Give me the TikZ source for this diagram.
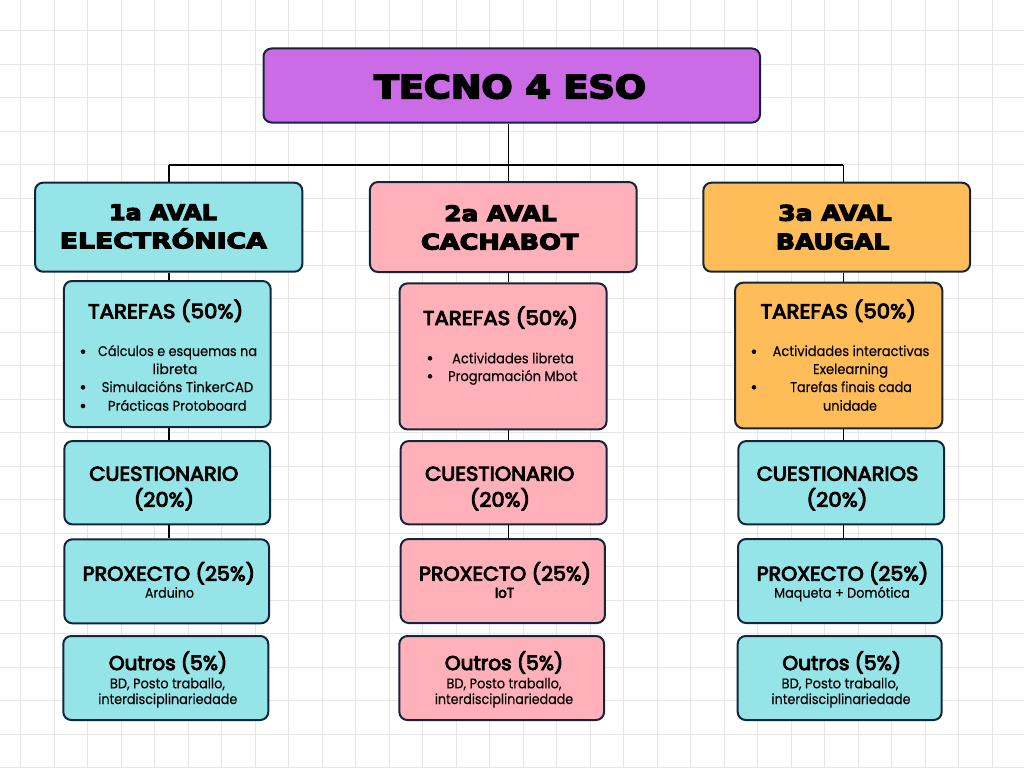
\documentclass[tikz,border=0pt]{standalone}
\usepackage{fontspec}
\usepackage{graphicx}
\setmainfont{Poppins}[BoldFont={Poppins}, BoldFeatures={FakeBold=0.2}]
\newfontfamily\hdrfont{DejaVu Sans}[BoldFont={DejaVu Sans Bold}, BoldFeatures={FakeBold=5}]
\newfontfamily\medfont{Poppins}[BoldFont={Poppins}, BoldFeatures={FakeBold=4.5}]
\newcommand\fw[2]{\resizebox{#1pt}{\height}{#2}}
\definecolor{gridc}{HTML}{E6E6E6}
\definecolor{bord}{HTML}{13253A}
\definecolor{purp}{HTML}{CB6CE6}
\definecolor{cyanb}{HTML}{94E4E8}
\definecolor{pinkb}{HTML}{FFB0B8}
\definecolor{orab}{HTML}{FFBD59}
\tikzset{
  bx/.style={draw=bord, line width=2pt, rounded corners=8pt, inner sep=0pt},
  conn/.style={draw=black, line width=1.5pt},
  tx/.style={anchor=base, inner sep=0pt, text=black},
  ttl/.style={tx, font=\hdrfont\bfseries\fontsize{32}{36}\selectfont},
  hdr/.style={tx, font=\hdrfont\bfseries\fontsize{21.5}{24}\selectfont},
  med/.style={tx, font=\medfont\bfseries\fontsize{20}{24}\selectfont},
  sml/.style={tx, font=\bfseries\fontsize{14}{16}\selectfont},
  bul/.style={circle, fill=black, inner sep=0pt, minimum size=4.6pt},
}
\begin{document}
\begin{tikzpicture}[x=1pt,y=-1pt]
\useasboundingbox (0,0) rectangle (1024,768);
\fill[white] (0,0) rectangle (1024,768);
% grid
\foreach \i in {0,...,30} {
  \draw[gridc, line width=1.3pt] ({20.7+33.5*\i},0) -- ({20.7+33.5*\i},768);
}
\foreach \j in {0,...,22} {
  \draw[gridc, line width=1.3pt] (0,{30.8+33.5*\j}) -- (1024,{30.8+33.5*\j});
}
% connector coordinates
\coordinate (hub) at (508.5,165);
\coordinate (l1) at (169,165);
\coordinate (l3) at (843.3,165);
\coordinate (c1) at (169,0);
\coordinate (c2) at (508.5,0);
\coordinate (c3) at (843.3,0);

% boxes
\node[bx, fill=purp, minimum width=496.5pt, minimum height=74pt] (title) at (511.75,85.5) {};

\node[bx, fill=cyanb, minimum width=267.3pt, minimum height=89pt] (h1) at (168.7,227.2) {};
\node[bx, fill=pinkb, minimum width=266.7pt, minimum height=90pt] (h2) at (503.3,227) {};
\node[bx, fill=orab, minimum width=266.7pt, minimum height=89pt] (h3) at (836.7,227.2) {};

\node[bx, fill=cyanb, minimum width=206.7pt, minimum height=146pt] (t1) at (167.3,354) {};
\node[bx, fill=pinkb, minimum width=207pt, minimum height=146pt] (t2) at (503,356.4) {};
\node[bx, fill=orab, minimum width=207.3pt, minimum height=145.6pt] (t3) at (838.7,355.5) {};

\node[bx, fill=cyanb, minimum width=205.7pt, minimum height=83.3pt] (q1) at (167.2,482.7) {};
\node[bx, fill=pinkb, minimum width=206pt, minimum height=83.3pt] (q2) at (503.7,482.7) {};
\node[bx, fill=cyanb, minimum width=205.7pt, minimum height=83.3pt] (q3) at (841.2,482.7) {};

\node[bx, fill=cyanb, minimum width=204.7pt, minimum height=84pt] (p1) at (166.7,581.3) {};
\node[bx, fill=pinkb, minimum width=204.3pt, minimum height=84pt] (p2) at (502.8,581) {};
\node[bx, fill=cyanb, minimum width=204pt, minimum height=84pt] (p3) at (840,581) {};

\node[bx, fill=cyanb, minimum width=205pt, minimum height=84pt] (o1) at (165.8,678) {};
\node[bx, fill=pinkb, minimum width=204.7pt, minimum height=84pt] (o2) at (501.7,678) {};
\node[bx, fill=cyanb, minimum width=204pt, minimum height=84pt] (o3) at (839.7,678) {};

% connectors
\draw[conn] (title.south -| hub) -- (hub);
\draw[conn] (l1) -- (l3);
\draw[conn] (l1) -- (l1 |- h1.north);
\draw[conn] (hub) -- (hub |- h2.north);
\draw[conn] (l3) -- (l3 |- h3.north);
\draw[conn] (c1 |- h1.south) -- (c1 |- t1.north);
\draw[conn] (c1 |- t1.south) -- (c1 |- q1.north);
\draw[conn] (c1 |- q1.south) -- (c1 |- p1.north);
\draw[conn] (c2 |- h2.south) -- (c2 |- t2.north);
\draw[conn] (c2 |- t2.south) -- (c2 |- q2.north);
\draw[conn] (c2 |- q2.south) -- (c2 |- p2.north);
\draw[conn] (c3 |- h3.south) -- (c3 |- t3.north);
\draw[conn] (c3 |- t3.south) -- (c3 |- q3.north);
\draw[conn] (c3 |- q3.south) -- (c3 |- p3.north);

% title texts
\node[ttl] (tt) at (510,98.3) {\fw{272}{TECNO 4 ESO}};
\node[hdr] (h1a) at (163,220) {\fw{108}{1a AVAL}};
\node[hdr] (h1b) at (163.3,248.3) {\fw{207}{ELECTRÓNICA}};
\node[hdr] (h2a) at (500.5,221.2) {\fw{112.3}{2a AVAL}};
\node[hdr] (h2b) at (499.7,249.5) {\fw{157.3}{CACHABOT}};
\node[hdr] (h3a) at (835,220.7) {\fw{113.3}{3a AVAL}};
\node[hdr] (h3b) at (832.7,249.3) {\fw{113.3}{BAUGAL}};

% tarefas
\node[med] (t1a) at (165.7,318.3) {\fw{155}{TAREFAS (50\%)}};
\node[med] (t2a) at (500.5,325) {\fw{155}{TAREFAS (50\%)}};
\node[med] (t3a) at (838.3,318.3) {\fw{155.3}{TAREFAS (50\%)}};

\node[bul] (b11) at (83,351.7) {};
\node[bul] (b12) at (83,387.3) {};
\node[bul] (b13) at (83,406) {};
\node[sml] (t1b) at (177.5,356) {\fw{159}{Cálculos e esquemas na}};
\node[sml] (t1c) at (175,374) {\fw{45}{libreta}};
\node[sml] (t1d) at (177.5,392) {\fw{151.6}{Simulacións TinkerCAD}};
\node[sml] (t1e) at (177.3,410.7) {\fw{138.7}{Prácticas Protoboard}};

\node[bul] (b21) at (430,358.3) {};
\node[bul] (b22) at (430,376.3) {};
\node[sml] (t2b) at (513,363.3) {\fw{121.7}{Actividades libreta}};
\node[sml] (t2c) at (512.8,381) {\fw{129.3}{Programación Mbot}};

\node[bul] (b31) at (754,351.7) {};
\node[bul] (b32) at (754,387.3) {};
\node[sml] (t3b) at (851,356) {\fw{156.7}{Actividades interactivas}};
\node[sml] (t3c) at (850.5,374) {\fw{75}{Exelearning}};
\node[sml] (t3d) at (851,392) {\fw{121.7}{Tarefas finais cada}};
\node[sml] (t3e) at (850,410.7) {\fw{54}{unidade}};

% cuestionarios
\node[med] (q1a) at (163.8,480.7) {\fw{149}{CUESTIONARIO}};
\node[med] (q1b) at (164,506.7) {\fw{60}{(20\%)}};
\node[med] (q2a) at (499.7,480.7) {\fw{149.3}{CUESTIONARIO}};
\node[med] (q2b) at (500,506.7) {\fw{60}{(20\%)}};
\node[med] (q3a) at (837.5,480.7) {\fw{161.6}{CUESTIONARIOS}};
\node[med] (q3b) at (837,506.7) {\fw{61}{(20\%)}};

% proxecto
\node[med] (p1a) at (168.8,580.7) {\fw{172.3}{PROXECTO (25\%)}};
\node[sml] (p1b) at (169.5,597.7) {\fw{49}{Arduino}};
\node[med] (p2a) at (505,580.7) {\fw{172}{PROXECTO (25\%)}};
\node[sml, font=\medfont\bfseries\fontsize{14}{16}\selectfont] (p2b) at (504.5,597.7) {\fw{19}{IoT}};
\node[med] (p3a) at (842.5,580.7) {\fw{171.6}{PROXECTO (25\%)}};
\node[sml] (p3b) at (842,597.7) {\fw{135.7}{Maqueta + Domótica}};

% outros
\node[med] (o1a) at (168,670) {\fw{118.3}{Outros (5\%)}};
\node[sml] (o1b) at (167.5,688.3) {\fw{115}{BD, Posto traballo,}};
\node[sml] (o1c) at (167.8,704) {\fw{139}{interdisciplinariedade}};
\node[med] (o2a) at (504,670) {\fw{118.3}{Outros (5\%)}};
\node[sml] (o2b) at (504,688.3) {\fw{115}{BD, Posto traballo,}};
\node[sml] (o2c) at (504,704) {\fw{138.3}{interdisciplinariedade}};
\node[med] (o3a) at (841.7,670) {\fw{118.7}{Outros (5\%)}};
\node[sml] (o3b) at (840,688.3) {\fw{117}{BD, Posto traballo,}};
\node[sml] (o3c) at (841,704) {\fw{139}{interdisciplinariedade}};
\end{tikzpicture}
\end{document}
